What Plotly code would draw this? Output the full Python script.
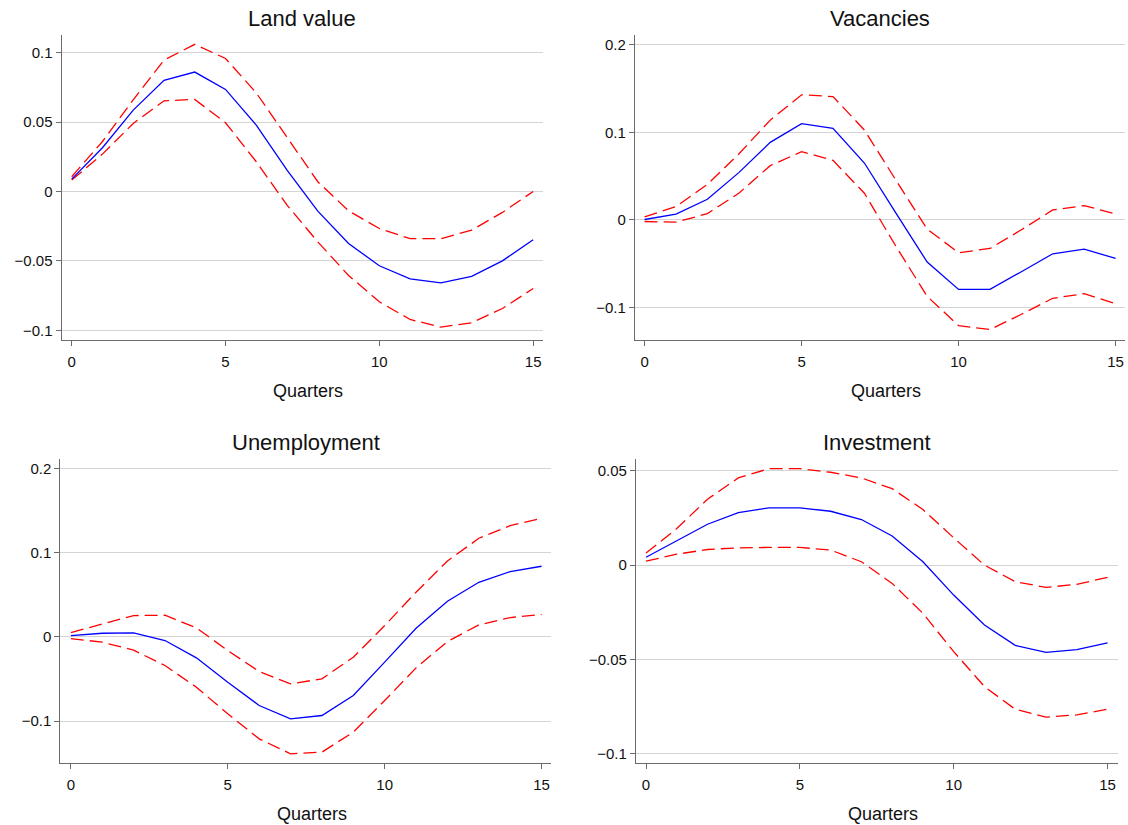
import plotly.graph_objects as go

quarters = list(range(16))

panel_titles = ["Land value", "Vacancies", "Unemployment", "Investment"]
x_title = "Quarters"

land_irf = [0.0089, 0.0315, 0.0586, 0.080, 0.086, 0.0735, 0.0478, 0.0154,
            -0.0142, -0.0375, -0.0535, -0.0629, -0.0658, -0.0612, -0.050, -0.0348]
land_upper = [0.0106, 0.036, 0.066, 0.0946, 0.106, 0.0958, 0.071, 0.039,
              0.007, -0.014, -0.0267, -0.034, -0.034, -0.0279, -0.0151, 0.0]
land_lower = [0.0082, 0.0269, 0.049, 0.0653, 0.0663, 0.0495, 0.0214, -0.0098,
              -0.0363, -0.0605, -0.0795, -0.0922, -0.0977, -0.0946, -0.0843, -0.0699]

vac_irf = [0.0004, 0.0065, 0.0236, 0.054, 0.0886, 0.110, 0.1046, 0.065,
           0.008, -0.0483, -0.0795, -0.0795, -0.0593, -0.0388, -0.0335, -0.0441]
vac_upper = [0.0034, 0.0152, 0.0407, 0.0753, 0.114, 0.143, 0.141, 0.1027,
             0.0456, -0.0106, -0.0376, -0.0327, -0.0114, 0.0114, 0.0163, 0.0068]
vac_lower = [-0.0019, -0.0027, 0.0072, 0.0304, 0.062, 0.078, 0.068, 0.0304,
             -0.030, -0.0875, -0.121, -0.1255, -0.108, -0.0897, -0.0844, -0.0958]

unemp_irf = [0.0016, 0.0043, 0.0047, -0.0043, -0.0249, -0.0538, -0.0814, -0.0972,
             -0.0933, -0.0696, -0.030, 0.0103, 0.0423, 0.0648, 0.0775, 0.0838]
unemp_upper = [0.0051, 0.015, 0.0253, 0.0257, 0.0107, -0.0162, -0.0411, -0.0557,
               -0.0498, -0.0241, 0.0134, 0.053, 0.0901, 0.117, 0.132, 0.1407]
unemp_lower = [-0.002, -0.0063, -0.0158, -0.034, -0.0597, -0.0913, -0.121, -0.1387,
               -0.1368, -0.113, -0.0755, -0.0368, -0.0055, 0.0142, 0.0229, 0.0265]

inv_irf = [0.0042, 0.0129, 0.0217, 0.0279, 0.0304, 0.0304, 0.0286, 0.0242,
           0.0155, 0.0018, -0.0159, -0.0318, -0.0426, -0.0463, -0.0449, -0.0413]
inv_upper = [0.0064, 0.0194, 0.035, 0.0463, 0.0512, 0.0512, 0.0493, 0.0463,
             0.0406, 0.0295, 0.0145, 0.0, -0.0088, -0.0118, -0.0102, -0.0065]
inv_lower = [0.0021, 0.0058, 0.0083, 0.0092, 0.0094, 0.0094, 0.008, 0.0018,
             -0.0097, -0.0256, -0.0459, -0.0645, -0.0765, -0.0807, -0.0795, -0.0765]

x_tickvals = [0, 5, 10, 15]
land_yticks = [-0.1, -0.05, 0, 0.05, 0.1]
vac_yticks = [-0.1, 0, 0.1, 0.2]
unemp_yticks = [-0.1, 0, 0.1, 0.2]
inv_yticks = [-0.1, -0.05, 0, 0.05]


def fmt(v):
    s = ("%g" % v)
    return s.replace("-", "\u2212")


W, H = 1128, 825

# pixel layout: (left, right, top, bottom), x range, y range
panels = [
    dict(title=panel_titles[0], irf=land_irf, up=land_upper, lo=land_lower, yt=land_yticks,
         px=(61.7, 543, 35, 340), xr=[-0.325, 15.32], yr=[-0.107, 0.1127]),
    dict(title=panel_titles[1], irf=vac_irf, up=vac_upper, lo=vac_lower, yt=vac_yticks,
         px=(635, 1125, 35, 340), xr=[-0.306, 15.30], yr=[-0.1374, 0.2114]),
    dict(title=panel_titles[2], irf=unemp_irf, up=unemp_upper, lo=unemp_lower, yt=unemp_yticks,
         px=(60.4, 551, 458.7, 763.3), xr=[-0.334, 15.30], yr=[-0.150, 0.2114]),
    dict(title=panel_titles[3], irf=inv_irf, up=inv_upper, lo=inv_lower, yt=inv_yticks,
         px=(636, 1117.7, 458.7, 763.3), xr=[-0.325, 15.33], yr=[-0.1052, 0.0565]),
]

FONT = "Liberation Sans, Arial, sans-serif"
AXC = "#6b6b6b"

fig = go.Figure()
layout = dict(
    width=W, height=H,
    margin=dict(l=0, r=0, t=0, b=0),
    paper_bgcolor="white", plot_bgcolor="white",
    showlegend=False,
    font=dict(family=FONT, color="#111111"),
    annotations=[],
)

for i, p in enumerate(panels):
    n = "" if i == 0 else str(i + 1)
    xa, ya = "x" + n, "y" + n
    l, r, t, b = p["px"]
    for series, col, dash in ((p["up"], "#ff0000", "13px,6px"),
                              (p["lo"], "#ff0000", "13px,6px"),
                              (p["irf"], "#0000ff", "solid")):
        fig.add_trace(go.Scatter(x=quarters, y=series, mode="lines",
                                 line=dict(color=col, width=1.3, dash=dash),
                                 xaxis=xa, yaxis=ya, hoverinfo="skip"))
    layout["xaxis" + n] = dict(
        domain=[l / W, r / W], range=p["xr"], anchor=ya,
        showline=True, linecolor=AXC, linewidth=1.3,
        ticks="outside", ticklen=5, tickwidth=1.3, tickcolor=AXC,
        tickvals=x_tickvals, ticktext=[fmt(v) for v in x_tickvals],
        tickfont=dict(size=15, family=FONT, color="#111111"),
        ticklabelstandoff=3,
        showgrid=False, zeroline=False,
    )
    layout["yaxis" + n] = dict(
        domain=[1 - b / H, 1 - t / H], range=p["yr"], anchor=xa,
        showline=True, linecolor=AXC, linewidth=1.3,
        ticks="outside", ticklen=5, tickwidth=1.3, tickcolor=AXC,
        tickvals=p["yt"], ticktext=[fmt(v) for v in p["yt"]],
        tickfont=dict(size=15, family=FONT, color="#111111"),
        showgrid=True, gridcolor="#d4d4d4", gridwidth=1.3, zeroline=False,
    )
    cx = (l + r) / 2 / W
    title_y = (t - 16.5)
    layout["annotations"].append(dict(
        text=p["title"], x=cx, y=1 - title_y / H, xref="paper", yref="paper",
        xanchor="center", yanchor="middle", showarrow=False,
        font=dict(size=22, family=FONT, color="#111111")))
    layout["annotations"].append(dict(
        text=x_title, x=cx + 6 / W, y=1 - (b + 50.5) / H, xref="paper", yref="paper",
        xanchor="center", yanchor="middle", showarrow=False,
        font=dict(size=18, family=FONT, color="#111111")))

fig.update_layout(**layout)
fig.write_html("out.html")
